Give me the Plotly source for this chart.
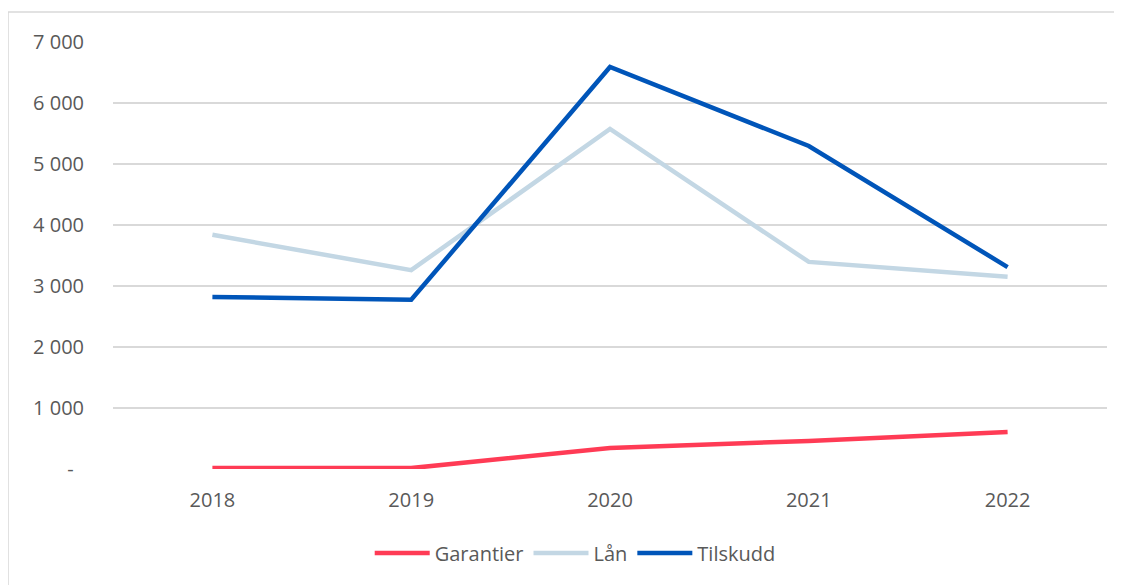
import plotly.graph_objects as go

years = ["2018", "2019", "2020", "2021", "2022"]
garantier = [15, 15, 345, 460, 605]
laan = [3840, 3260, 5575, 3395, 3150]
tilskudd = [2820, 2775, 6590, 5295, 3310]

y_ticks = [0, 1000, 2000, 3000, 4000, 5000, 6000, 7000]
y_labels = ["-\u00a0\u00a0", "1 000", "2 000", "3 000", "4 000", "5 000", "6 000", "7 000"]

series = [
    ("Garantier", garantier, "#FF3B55"),
    ("Lån", laan, "#C3D7E4"),
    ("Tilskudd", tilskudd, "#0055B9"),
]

fig = go.Figure()
for name, vals, color in series:
    fig.add_trace(
        go.Scatter(
            x=years,
            y=vals,
            mode="lines",
            name=name,
            line=dict(color=color, width=4.5),
        )
    )

# page body has an 8px margin, so the figure is 8px smaller and offset
fig.update_layout(
    width=1114,
    height=577,
    margin=dict(l=105, r=15, t=34, b=116),
    paper_bgcolor="white",
    plot_bgcolor="white",
    font=dict(family="Open Sans, Liberation Sans, sans-serif", size=20, color="#595959"),
    showlegend=True,
    legend=dict(
        orientation="h",
        x=0.465,
        xanchor="center",
        y=-0.197,
        yanchor="middle",
        font=dict(size=20, color="#595959"),
        itemwidth=55,
    ),
    xaxis=dict(
        type="category",
        range=[-0.5, 4.5],
        showgrid=False,
        showline=False,
        zeroline=False,
        ticks="",
        ticklabelstandoff=17,
    ),
    yaxis=dict(
        range=[0, 7000],
        tickvals=y_ticks,
        ticktext=y_labels,
        showgrid=True,
        gridcolor="#D9D9D9",
        gridwidth=1.5,
        zeroline=False,
        showline=False,
        ticks="",
        ticklabelstandoff=28,
    ),
    shapes=[
        dict(
            type="rect",
            xref="paper",
            yref="paper",
            x0=-0.1056,
            x1=1.2,
            y0=-0.5,
            y1=1.0703,
            line=dict(color="#D9D9D9", width=1.5),
            fillcolor="rgba(0,0,0,0)",
            layer="below",
        )
    ],
)

fig.write_html("out.html")
